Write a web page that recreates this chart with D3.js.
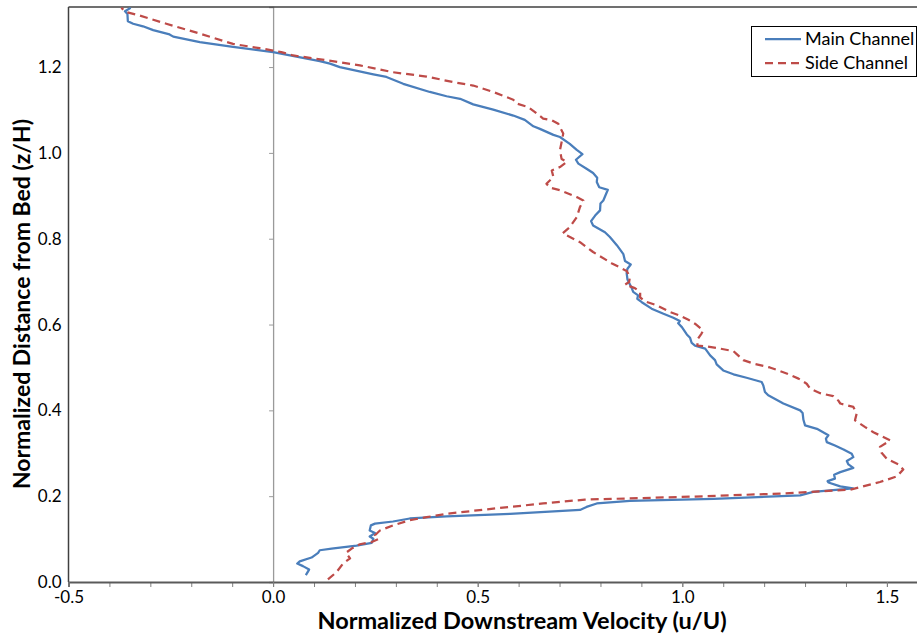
<!DOCTYPE html>
<html>
<head>
<meta charset="utf-8">
<script src="https://cdn.jsdelivr.net/npm/d3@7"></script>
<style>
  body { margin: 0; background: #fff; }
  svg { display: block; font-family: Lato, "Open Sans", sans-serif; }
</style>
</head>
<body>
<script>
// data (velocity u/U, height z/H)
var mainVelocity = [0.080,0.088,0.073,0.059,0.065,0.094,0.110,0.114,0.143,0.204,0.241,0.245,0.236,0.249,0.236,0.239,0.249,0.293,0.334,0.424,0.579,0.750,0.766,0.791,0.872,1.076,1.288,1.320,1.417,1.386,1.357,1.355,1.373,1.371,1.386,1.418,1.406,1.402,1.418,1.414,1.394,1.373,1.353,1.351,1.357,1.329,1.300,1.296,1.294,1.288,1.247,1.210,1.202,1.198,1.194,1.157,1.125,1.100,1.084,1.080,1.068,1.056,1.031,1.023,1.019,1.011,0.999,0.990,0.994,0.978,0.954,0.925,0.901,0.890,0.892,0.880,0.876,0.866,0.864,0.866,0.874,0.860,0.856,0.840,0.823,0.811,0.782,0.777,0.787,0.799,0.800,0.807,0.818,0.797,0.791,0.792,0.782,0.766,0.746,0.740,0.756,0.742,0.725,0.701,0.685,0.652,0.636,0.615,0.587,0.538,0.489,0.457,0.424,0.383,0.318,0.277,0.245,0.163,0.139,0.114,0.000,-0.098,-0.179,-0.244,-0.253,-0.293,-0.318,-0.342,-0.355,-0.356,-0.362,-0.348];
var mainHeight = [0.016,0.029,0.037,0.043,0.048,0.057,0.068,0.074,0.078,0.085,0.091,0.101,0.106,0.114,0.120,0.132,0.136,0.141,0.148,0.153,0.159,0.168,0.175,0.183,0.189,0.194,0.202,0.210,0.218,0.223,0.232,0.235,0.241,0.250,0.256,0.266,0.274,0.282,0.291,0.299,0.309,0.318,0.326,0.334,0.342,0.357,0.365,0.378,0.394,0.400,0.416,0.435,0.443,0.458,0.466,0.476,0.484,0.493,0.507,0.517,0.528,0.544,0.551,0.557,0.569,0.577,0.594,0.603,0.608,0.616,0.625,0.637,0.652,0.660,0.668,0.676,0.686,0.705,0.720,0.730,0.740,0.748,0.764,0.785,0.804,0.815,0.831,0.841,0.854,0.866,0.882,0.889,0.914,0.920,0.932,0.942,0.953,0.963,0.975,0.984,0.997,1.007,1.021,1.037,1.042,1.056,1.062,1.077,1.087,1.101,1.113,1.126,1.132,1.142,1.161,1.177,1.183,1.200,1.208,1.214,1.235,1.247,1.258,1.271,1.276,1.286,1.295,1.301,1.307,1.324,1.330,1.338];

var sideVelocity = [0.134,0.155,0.171,0.188,0.178,0.192,0.212,0.241,0.257,0.249,0.261,0.293,0.334,0.375,0.424,0.538,0.660,0.762,0.994,1.239,1.410,1.483,1.524,1.540,1.528,1.500,1.487,1.483,1.508,1.467,1.447,1.422,1.426,1.418,1.386,1.381,1.369,1.337,1.312,1.304,1.284,1.255,1.214,1.174,1.149,1.133,1.125,1.092,1.060,1.037,1.037,1.047,1.051,1.031,1.015,0.994,0.970,0.937,0.909,0.897,0.897,0.884,0.860,0.870,0.872,0.864,0.827,0.782,0.750,0.717,0.708,0.725,0.742,0.750,0.758,0.742,0.701,0.677,0.668,0.685,0.681,0.701,0.718,0.705,0.701,0.705,0.709,0.697,0.681,0.660,0.640,0.623,0.595,0.587,0.538,0.489,0.440,0.375,0.293,0.212,0.131,0.049,0.020,-0.033,-0.098,-0.179,-0.261,-0.326,-0.358,-0.371];
var sideHeight = [0.006,0.023,0.043,0.055,0.068,0.078,0.088,0.093,0.100,0.109,0.120,0.132,0.144,0.151,0.159,0.171,0.183,0.192,0.198,0.206,0.215,0.233,0.246,0.262,0.274,0.287,0.301,0.315,0.330,0.349,0.361,0.377,0.392,0.408,0.416,0.423,0.433,0.440,0.451,0.462,0.474,0.486,0.500,0.509,0.517,0.531,0.538,0.544,0.549,0.551,0.565,0.579,0.586,0.602,0.611,0.621,0.629,0.645,0.654,0.663,0.676,0.685,0.693,0.699,0.711,0.725,0.743,0.769,0.792,0.808,0.813,0.827,0.850,0.874,0.889,0.897,0.913,0.919,0.928,0.944,0.959,0.967,0.979,0.986,1.006,1.025,1.045,1.068,1.076,1.080,1.095,1.107,1.115,1.124,1.142,1.157,1.165,1.178,1.188,1.204,1.216,1.227,1.235,1.244,1.254,1.278,1.301,1.320,1.328,1.338];

var xTicks = [-0.5, 0.0, 0.5, 1.0, 1.5];
var xMinorTicks = d3.range(-5, 16).map(function(i) { return i / 10; });
var yTicks = [0.0, 0.2, 0.4, 0.6, 0.8, 1.0, 1.2];

var seriesNames = ["Main Channel", "Side Channel"];
var seriesColors = ["#4a7ebb", "#be4b48"];

var W = 917, H = 637;
var plotLeft = 68.5, plotTop = 7, plotBottom = 582;

function fmt(d) { return d.toFixed(1); }

var svg = d3.select("body").append("svg")
    .attr("width", W)
    .attr("height", H);

/*Scales*/
var xScale = d3.scaleLinear()
    .domain([-0.5, 1.6])
    .range([plotLeft, plotLeft + 2.1 * 409.2]);
var yScale = d3.scaleLinear()
    .domain([0, 1.34])
    .range([plotBottom, plotTop]);

svg.append("clipPath").attr("id", "plot")
  .append("rect")
    .attr("x", plotLeft).attr("y", plotTop)
    .attr("width", W - plotLeft).attr("height", plotBottom - plotTop);

/*Zero line with ticks*/
var zeroAxis = d3.axisLeft(yScale)
    .tickValues(yTicks)
    .tickSize(4)
    .tickFormat("");
var gz = svg.append("g")
    .attr("transform", "translate(" + xScale(0) + ",0)")
    .call(zeroAxis);
gz.select(".domain").attr("stroke", "#9a9a9a").attr("stroke-width", 1.3);
gz.selectAll(".tick line").attr("stroke", "#9a9a9a");

/*Frame left and top*/
svg.append("line")
    .attr("x1", plotLeft).attr("x2", plotLeft)
    .attr("y1", plotTop).attr("y2", plotBottom)
    .attr("stroke", "#404040").attr("stroke-width", 1.5);
svg.append("line")
    .attr("x1", plotLeft).attr("x2", W)
    .attr("y1", plotTop).attr("y2", plotTop)
    .attr("stroke", "#404040").attr("stroke-width", 1.5);

/*Y labels*/
svg.append("g").selectAll("text")
    .data(yTicks)
    .enter()
    .append("text")
    .attr("x", plotLeft - 7)
    .attr("y", function(d) { return yScale(d); })
    .attr("dy", "0.36em")
    .attr("text-anchor", "end")
    .attr("font-size", 17)
    .attr("fill", "#000")
    .text(fmt);

/*X axis*/
var xMinor = d3.axisBottom(xScale)
    .tickValues(xMinorTicks)
    .tickSize(5)
    .tickFormat("");
var gm = svg.append("g")
    .attr("transform", "translate(0," + plotBottom + ")")
    .call(xMinor);
gm.select(".domain").remove();
gm.selectAll(".tick line").attr("stroke", "#808080");

var xAxis = d3.axisBottom(xScale)
    .tickValues(xTicks)
    .tickSize(5)
    .tickPadding(4)
    .tickFormat(fmt);
var gx = svg.append("g")
    .attr("transform", "translate(0," + plotBottom + ")")
    .call(xAxis);
gx.select(".domain").attr("stroke", "#5a5a5a").attr("stroke-width", 1.8);
gx.selectAll(".tick line").attr("stroke", "#808080");
gx.selectAll(".tick text")
    .attr("font-size", 17)
    .attr("font-family", "Lato, sans-serif")
    .attr("fill", "#000");

/*Lines*/
var line = d3.line()
    .x(function(d) { return xScale(d[0]); })
    .y(function(d) { return yScale(d[1]); });

var mainData = d3.zip(mainVelocity, mainHeight);
var sideData = d3.zip(sideVelocity, sideHeight);

var plot = svg.append("g").attr("clip-path", "url(#plot)");
plot.append("path")
    .datum(mainData)
    .attr("d", line)
    .attr("fill", "none")
    .attr("stroke", seriesColors[0])
    .attr("stroke-width", 2.25)
    .attr("stroke-linejoin", "round");
plot.append("path")
    .datum(sideData)
    .attr("d", line)
    .attr("fill", "none")
    .attr("stroke", seriesColors[1])
    .attr("stroke-width", 2.25)
    .attr("stroke-dasharray", "8,5")
    .attr("stroke-linejoin", "round");

/*Axis titles*/
svg.append("text")
    .attr("x", 522)
    .attr("y", 629)
    .attr("text-anchor", "middle")
    .attr("font-size", 23.5)
    .attr("font-weight", "bold")
    .text("Normalized Downstream Velocity (u/U)");
svg.append("text")
    .attr("transform", "translate(30,304) rotate(-90)")
    .attr("text-anchor", "middle")
    .attr("font-size", 23)
    .attr("font-weight", "bold")
    .text("Normalized Distance from Bed (z/H)");

/*Legend*/
var legend = svg.append("g");
legend.append("rect")
    .attr("x", 751.5).attr("y", 26.5)
    .attr("width", 165).attr("height", 50)
    .attr("fill", "#fff")
    .attr("stroke", "#000")
    .attr("stroke-width", 1);
seriesNames.forEach(function(name, i) {
    var ly = 39 + i * 24;
    legend.append("line")
        .attr("x1", 765).attr("x2", 801)
        .attr("y1", ly).attr("y2", ly)
        .attr("stroke", seriesColors[i])
        .attr("stroke-width", 2.25)
        .attr("stroke-dasharray", i === 1 ? "8,5" : null);
    legend.append("text")
        .attr("x", 805)
        .attr("y", ly)
        .attr("dy", "0.35em")
        .attr("font-size", 18)
        .text(name);
});
</script>
</body>
</html>
